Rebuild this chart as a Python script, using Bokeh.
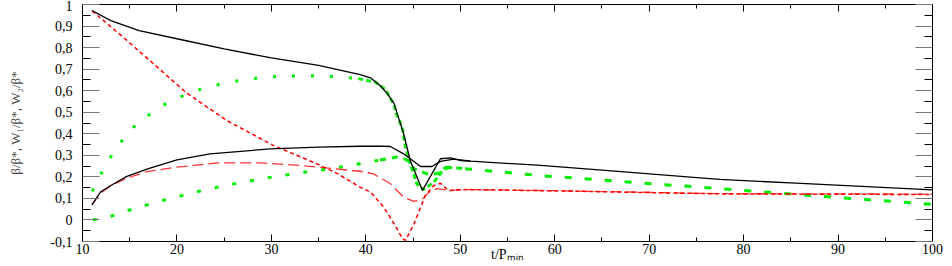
import numpy as np
from bokeh.plotting import figure
from bokeh.models import FixedTicker, LinearAxis, CustomJSTickFormatter, Range1d
from bokeh.embed import file_html
from bokeh.resources import INLINE

# ---- data ----
# black solid, upper curve
t_b1 = [11, 13, 16, 20, 25, 30, 35, 39.4, 40.5, 41.5, 42.3, 43, 43.5, 44, 44.7, 46.0,
        47.9, 49.0, 50.0, 51.1, 58.5, 65, 75.4, 77.5, 85, 100]
v_b1 = [0.972, 0.925, 0.879, 0.841, 0.794, 0.752, 0.717, 0.675, 0.66, 0.624, 0.585, 0.539,
        0.469, 0.40, 0.276, 0.137, 0.284, 0.288, 0.276, 0.273, 0.253, 0.231, 0.195, 0.188,
        0.172, 0.14]
# black solid, lower curve
t_b2 = [11, 11.9, 13, 14.7, 16.9, 20, 23.5, 29.9, 35, 39.4, 41.5, 42.6, 44.0, 45.8, 47.0,
        47.9, 49.3, 50.5, 51.1]
v_b2 = [0.07, 0.129, 0.16, 0.202, 0.237, 0.279, 0.307, 0.330, 0.338, 0.342, 0.343, 0.341,
        0.307, 0.248, 0.248, 0.272, 0.282, 0.276, 0.273]
# red short dashes
t_r1 = [11, 14, 17, 21, 25.3, 30.25, 34.85, 37, 39.4, 40.5, 41.9, 43, 43.9, 44.2, 45.1, 45.8,
        46.3, 47.2, 47.9, 48.8, 49.4, 51, 60, 77.5, 100]
v_r1 = [0.97, 0.86, 0.745, 0.59, 0.461, 0.345, 0.26, 0.215, 0.152, 0.129, 0.059, -0.018,
        -0.088, -0.095, -0.018, 0.059, 0.113, 0.16, 0.17, 0.135, 0.14, 0.141, 0.135, 0.121,
        0.118]
# red long dashes
t_r2 = [11, 11.9, 13, 14.7, 16.9, 20, 24.3, 28.8, 33.1, 37.7, 39.4, 40.8, 42.6, 44.0, 45.1,
        46.0, 46.7, 47.5, 49, 51, 60, 77.5, 100]
v_r2 = [0.07, 0.125, 0.158, 0.195, 0.225, 0.245, 0.265, 0.265, 0.253, 0.233, 0.226, 0.214,
        0.168, 0.106, 0.086, 0.098, 0.129, 0.145, 0.137, 0.141, 0.136, 0.122, 0.12]
# green, upper curve
t_g1 = [11.03, 11.48, 11.9, 12.26, 13.3, 13.9, 14.6, 15.26, 16.25, 17.2, 18.26, 19.67, 21.09,
        22.67, 24.54, 26.49, 28.5, 30.6, 32.8, 34.9, 37.1, 39.2, 41.0, 42.1, 42.5, 43.0, 43.2,
        43.6, 43.9, 44.2, 44.7, 45.4, 46.1, 47.2, 48.4, 50.7, 58.5, 77.5, 100]
v_g1 = [0.133, 0.17, 0.206, 0.242, 0.314, 0.353, 0.389, 0.426, 0.461, 0.493, 0.526, 0.558,
        0.585, 0.609, 0.630, 0.646, 0.658, 0.666, 0.669, 0.669, 0.664, 0.656, 0.64, 0.605,
        0.57, 0.536, 0.496, 0.457, 0.418, 0.338, 0.26, 0.168, 0.141, 0.175, 0.245, 0.237,
        0.206, 0.145, 0.072]
# green, lower curve
t_g2 = [11.1, 13.0, 14.7, 16.5, 18.2, 20.0, 21.9, 23.7, 25.7, 27.6, 29.6, 31.7, 33.6, 35.7,
        37.7, 39.5, 41.5, 43.4, 44.3, 45.1, 46.5, 47.5, 48.8, 50.7]
v_g2 = [0.0, 0.017, 0.042, 0.066, 0.087, 0.107, 0.129, 0.146, 0.165, 0.18, 0.196, 0.21,
        0.222, 0.234, 0.248, 0.262, 0.278, 0.293, 0.28, 0.237, 0.214, 0.214, 0.245, 0.237]

x_major = [10, 20, 30, 40, 50, 60, 70, 80, 90, 100]
x_minor = [15, 25, 35, 45, 55, 65, 75, 85, 95]
y_major = [-0.1, 0, 0.1, 0.2, 0.3, 0.4, 0.5, 0.6, 0.7, 0.8, 0.9, 1.0]
y_minor = [-0.05, 0.05, 0.15, 0.25, 0.35, 0.45, 0.55, 0.65, 0.75, 0.85, 0.95]

x_title = "t/Pₘᵢₙ"
y_title = "β/β*, W₁/β*, W₂/β*"

# ---- figure ----
p = figure(width=952, height=266, output_backend="svg", toolbar_location=None,
           x_range=Range1d(10, 100), y_range=Range1d(-0.1, 1.0),
           min_border_left=82, min_border_right=20, min_border_top=4, min_border_bottom=25,
           background_fill_color="white", border_fill_color="white")
p.grid.visible = False
p.outline_line_color = "black"
p.xaxis.visible = False
p.yaxis.visible = False

serif = "Liberation Serif"
fmt = CustomJSTickFormatter(code="return (Math.round(tick*10)/10).toString().replace('.', ',');")
blank = CustomJSTickFormatter(code="return '';")

xt = FixedTicker(ticks=x_major, minor_ticks=x_minor)
yt = FixedTicker(ticks=y_major, minor_ticks=y_minor)

def style_x(ax, labels):
    ax.ticker = xt
    ax.axis_line_color = "black"
    ax.major_tick_in = 7
    ax.major_tick_out = 0
    ax.minor_tick_in = 4
    ax.minor_tick_out = 0
    ax.major_tick_line_color = "black"
    ax.minor_tick_line_color = "black"
    ax.major_label_text_font = serif
    ax.major_label_text_font_size = "14px"
    ax.major_label_text_color = "black"
    if labels:
        ax.major_label_standoff = 2
    else:
        ax.formatter = blank
        ax.major_label_standoff = 0

def style_y(ax, labels):
    ax.ticker = yt
    ax.axis_line_color = "black"
    ax.major_tick_in = 17
    ax.major_tick_out = 0
    ax.minor_tick_in = 8
    ax.minor_tick_out = 0
    ax.major_tick_line_color = "#777777"
    ax.minor_tick_line_color = "black"
    ax.major_label_text_font = serif
    ax.major_label_text_font_size = "14px"
    ax.major_label_text_color = "black"
    if labels:
        ax.formatter = fmt
        ax.major_label_standoff = 10
    else:
        ax.formatter = blank
        ax.major_label_standoff = 0

xb = LinearAxis(); style_x(xb, True)
xa = LinearAxis(); style_x(xa, False)
yl = LinearAxis(); style_y(yl, True)
yr = LinearAxis(); style_y(yr, False)

xb.axis_label = x_title
xb.axis_label_text_font = serif
xb.axis_label_text_font_size = "14px"
xb.axis_label_text_font_style = "normal"
xb.axis_label_text_color = "black"
xb.axis_label_standoff = -10

yl.axis_label = y_title
yl.axis_label_text_font = serif
yl.axis_label_text_font_size = "13px"
yl.axis_label_text_font_style = "normal"
yl.axis_label_text_color = "#444444"
yl.axis_label_standoff = 24

p.add_layout(xb, "below")
p.add_layout(xa, "above")
p.add_layout(yl, "left")
p.add_layout(yr, "right")

# ---- curves ----
GREEN = "#00ee00"
RED = "#ff0000"

t_g1a, v_g1a = np.array(t_g1), np.array(v_g1)
t_g2a, v_g2a = np.array(t_g2), np.array(v_g2)

# green upper: dotted on the rise, dense dashes on the drop, dashes afterwards
m = t_g1a <= 39.2
p.line(t_g1a[m], v_g1a[m], line_color=GREEN, line_width=3, line_dash="3 16")
m = (t_g1a >= 39.2) & (t_g1a <= 48.4)
p.line(t_g1a[m], v_g1a[m], line_color=GREEN, line_width=3, line_dash="5 3")
m = t_g1a >= 48.4
p.line(t_g1a[m], v_g1a[m], line_color=GREEN, line_width=3, line_dash="7 13")
# green lower
m = t_g2a <= 41.5
p.line(t_g2a[m], v_g2a[m], line_color=GREEN, line_width=3, line_dash="4 14")
m = t_g2a >= 41.5
p.line(t_g2a[m], v_g2a[m], line_color=GREEN, line_width=3, line_dash="6 6")

# red
p.line(t_r2, v_r2, line_color=RED, line_width=1.3, line_dash="11 5", line_alpha=0.8)
p.line(t_r1, v_r1, line_color=RED, line_width=1.5, line_dash="4 3")

# black
p.line(t_b2, v_b2, line_color="black", line_width=1.3)
p.line(t_b1, v_b1, line_color="black", line_width=1.3)

open("out.html", "w").write(file_html(p, INLINE))
